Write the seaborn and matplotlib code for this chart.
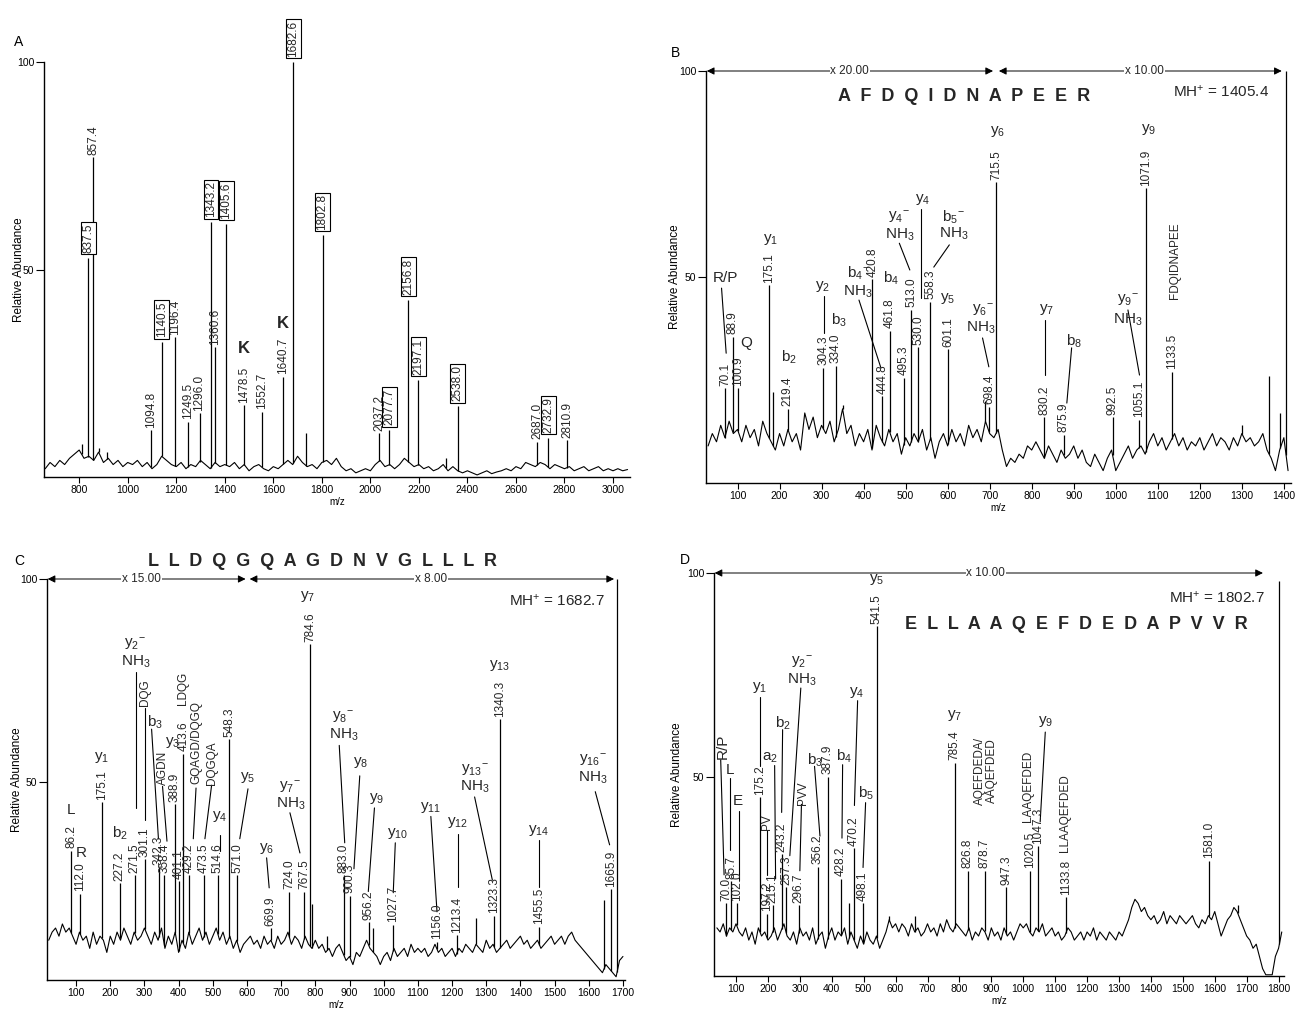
import numpy as np
import matplotlib
matplotlib.use("Agg")
import matplotlib.pyplot as plt
import seaborn as sns

sns.set_theme(style="ticks")
plt.rcParams["font.family"] = ["Liberation Sans", "DejaVu Sans"]
plt.rcParams["mathtext.fontset"] = "custom"
plt.rcParams["mathtext.rm"] = "Liberation Sans"
plt.rcParams["mathtext.it"] = "Liberation Sans"
plt.rcParams["mathtext.default"] = "regular"

# ---------------- Panel A : MALDI peptide map ----------------
a_base_mz = np.arange(660, 3061, 20)
a_base_y = [2.0, 3.5, 2.5, 4.0, 3.0, 4.5, 5.5, 6.5,
            4.5, 5.0, 4.0, 6.0, 3.5, 4.5, 3.0, 4.0, 2.5, 3.5,
            3.0, 4.0, 2.5, 3.5, 2.0, 3.0, 5.0, 4.0, 3.0, 2.5,
            3.5, 2.0, 3.0, 2.5, 4.0, 3.0, 2.0, 3.5, 2.5, 3.0,
            2.5, 3.5, 2.0, 3.0, 1.5, 2.5, 3.0, 2.0, 1.5, 2.5,
            2.0, 3.0, 4.0, 3.0, 5.0, 3.5, 2.5, 3.0, 2.0, 3.5,
            4.0, 3.0, 4.5, 2.5, 1.5, 2.0, 1.0, 1.5, 2.0, 1.5,
            3.0, 4.0, 2.5, 3.0, 2.0, 3.0, 4.5, 3.5, 2.5, 3.0,
            2.0, 2.5, 1.5, 2.0, 3.0, 1.5, 2.5, 1.5, 1.0, 1.5,
            1.0, 0.5, 1.0, 1.5, 0.8, 1.2, 1.5, 2.0, 1.5, 2.5,
            2.0, 3.5, 3.0, 2.5, 3.5, 3.0, 2.0, 3.0, 2.5, 2.0,
            2.5, 1.5, 2.0, 2.5, 1.5, 2.0, 2.5, 1.5, 2.0, 1.5,
            2.0, 1.5, 1.8]
a_peak_mz = [810, 837.5, 857.4, 880, 915, 1094.8, 1140.5, 1196.4, 1249.5, 1296.0,
             1343.2, 1360.6, 1405.6, 1478.5, 1552.7, 1640.7, 1682.6, 1735, 1802.8,
             2037.2, 2077.7, 2156.8, 2197.1, 2312, 2360, 2687.0, 2732.9, 2810.9]
a_peak_h = [8, 52.8, 77, 7, 6, 11.3, 32.5, 33.7, 13.3, 15.4,
            61.4, 31.3, 61, 17.3, 15.7, 24.1, 100, 10.6, 58.3,
            10.6, 11.3, 42.7, 23.4, 4.5, 17, 8.5, 9.4, 8.9]
a_peak_lbl = ["", "837.5", "857.4", "", "", "1094.8", "1140.5", "1196.4", "1249.5", "1296.0",
              "1343.2", "1360.6", "1405.6", "1478.5", "1552.7", "1640.7", "1682.6", "", "1802.8",
              "2037.2", "2077.7", "2156.8", "2197.1", "", "2538.0", "2687.0", "2732.9", "2810.9"]
a_boxed = ["837.5", "1140.5", "1343.2", "1405.6", "1682.6", "1802.8", "2077.7",
           "2156.8", "2197.1", "2538.0", "2732.9"]
a_xticks = [800, 1000, 1200, 1400, 1600, 1800, 2000, 2200, 2400, 2600, 2800, 3000]

# ---------------- Panel B : AFDQIDNAPEER ----------------
b_base_mz = np.arange(30, 1411, 10)
b_base_y = [9, 12, 10, 14, 11, 15, 12, 13,
            10, 14, 11, 13, 9, 15, 12, 10, 8, 12,
            9, 13, 10, 12, 8, 17, 13, 16, 11, 14,
            12, 15, 10, 13, 18, 12, 14, 9, 12, 10,
            13, 8, 14, 11, 9, 13, 10, 12, 7, 11,
            9, 12, 10, 13, 8, 11, 6, 10, 12, 9,
            13, 10, 12, 9, 14, 11, 13, 10, 15, 12,
            11, 13, 8, 4, 6, 5, 7, 6, 9, 8,
            10, 8, 6, 9, 7, 5, 8, 6, 7, 9,
            6, 8, 5, 4, 7, 5, 3, 6, 8, 3,
            5, 7, 9, 6, 8, 9, 7, 10, 12, 9,
            11, 8, 10, 12, 9, 11, 8, 10, 9, 11,
            8, 10, 12, 9, 11, 10, 8, 11, 9, 12,
            10, 11, 9, 10, 12, 8, 6, 3, 8, 11,
            3]
b_peak_mz = [70.1, 88.9, 100.9, 175.1, 185, 219.4, 304.3, 334.0, 350, 420.8, 444.8,
             461.8, 495.3, 513.0, 530.0, 558.3, 601.1, 690, 698.4, 715.5, 830.2,
             875.9, 992.5, 1055.1, 1071.9, 1133.5, 1300, 1365, 1392, 1405.4]
b_peak_h = [23, 35.5, 23, 48, 22, 18, 28, 28.5, 19, 49.5, 21,
            37, 25.5, 42, 33, 44, 32.5, 20, 18.5, 73, 16,
            11.7, 16, 15.3, 71.5, 27, 14, 26, 17, 100]
b_peak_lbl = ["70.1", "88.9", "100.9", "175.1", "", "219.4", "304.3", "334.0", "", "420.8", "444.8",
              "461.8", "495.3", "513.0", "530.0", "558.3", "601.1", "", "698.4", "715.5", "830.2",
              "875.9", "992.5", "1055.1", "1071.9", "1133.5", "", "", "", ""]
b_xticks = list(range(100, 1401, 100))

# ---------------- Panel C : LLDQGQAGDNVGLLLR ----------------
c_base_mz = np.arange(20, 1701, 10)
c_base_y = [11, 13, 14, 12, 15, 13, 14, 12, 10,
            13, 11, 12, 9, 13, 10, 12, 11, 8, 12,
            10, 13, 11, 14, 12, 10, 13, 11, 12, 14,
            12, 10, 13, 11, 14, 9, 12, 10, 13, 8,
            11, 9, 13, 10, 12, 14, 11, 13, 10, 12,
            14, 11, 13, 10, 12, 9, 11, 8, 10, 11,
            12, 10, 11, 9, 12, 10, 11, 9, 12, 10,
            11, 13, 10, 12, 11, 9, 12, 10, 9, 11,
            9, 10, 8, 9, 7, 9, 10, 8, 6, 7,
            5, 8, 7, 9, 11, 9, 8, 7, 5, 7,
            8, 6, 9, 7, 8, 9, 7, 10, 8, 9,
            8, 9, 7, 8, 10, 8, 9, 7, 8, 9,
            7, 9, 8, 10, 9, 8, 10, 9, 8, 11,
            9, 10, 8, 9, 10, 11, 9, 10, 11, 12,
            10, 11, 9, 10, 11, 9, 10, 11, 12, 10,
            11, 12, 10, 12, 13, 11, 10, 9, 8, 7,
            6, 5, 4, 3, 5, 4, 3, 2, 6, 7]
c_peak_mz = [86.2, 112.0, 175.1, 227.2, 271.5, 301.1, 342.3, 358.4, 388.9, 401.1, 413.6,
             429.2, 473.5, 514.6, 548.3, 571.0, 669.9, 724.0, 767.5, 784.6, 790, 835,
             883.0, 900.3, 956.2, 970, 1027.7, 1156.0, 1213.4, 1270, 1323.3, 1340.3,
             1455.5, 1645, 1665.9, 1682.7]
c_peak_h = [33, 22.5, 45, 25, 27, 31, 29, 27, 44.5, 25.5, 57,
            27, 27, 27, 60.5, 27, 14, 23, 23, 84, 20, 12,
            27, 22, 15.5, 14, 14.8, 10.6, 12.3, 16.5, 17, 65.5,
            14.3, 21, 23.5, 100]
c_peak_lbl = ["86.2", "112.0", "175.1", "227.2", "271.5", "301.1", "342.3", "358.4", "388.9", "401.1", "413.6",
              "429.2", "473.5", "514.6", "548.3", "571.0", "669.9", "724.0", "767.5", "784.6", "", "",
              "883.0", "900.3", "956.2", "", "1027.7", "1156.0", "1213.4", "", "1323.3", "1340.3",
              "1455.5", "", "1665.9", ""]
c_xticks = list(range(100, 1701, 100))

# ---------------- Panel D : ELLAAQEFDEDAPVVR ----------------
d_base_mz = np.arange(40, 1811, 10)
d_base_y = [13, 12, 14, 11, 13, 12, 14,
            12, 11, 13, 10, 12, 9, 13, 11, 12, 10,
            11, 13, 10, 12, 14, 11, 10, 12, 9, 13,
            11, 12, 10, 13, 9, 11, 12, 8, 11, 13,
            10, 12, 11, 13, 9, 12, 10, 8, 11, 9,
            12, 10, 9, 11, 8, 10, 12, 15, 13, 14,
            12, 14, 13, 11, 14, 12, 13, 11, 12, 14,
            12, 13, 11, 14, 12, 15, 13, 12, 14, 13,
            12, 11, 13, 10, 12, 11, 13, 12, 10, 13,
            11, 12, 10, 13, 11, 12, 10, 12, 14, 13,
            14, 12, 11, 13, 12, 14, 11, 12, 13, 11,
            12, 10, 11, 13, 12, 10, 11, 12, 10, 12,
            11, 13, 10, 12, 11, 10, 12, 11, 10, 12,
            11, 13, 15, 18, 20, 19, 17, 18, 16, 15,
            16, 14, 15, 17, 14, 16, 15, 14, 16, 15,
            14, 15, 16, 14, 13, 15, 14, 16, 15, 17,
            14, 11, 13, 15, 16, 18, 17, 15, 13, 11,
            10, 8, 9, 6, 3, 1.5, 1.5, 1.5, 6, 8,
            12]
d_peak_mz = [70.0, 85.7, 102.0, 175.2, 197.2, 215.1, 243.2, 257.3, 296.7, 356.2, 387.9,
             428.2, 455, 470.2, 498.1, 541.5, 580, 660, 785.4, 826.8, 878.7, 947.3,
             1020.5, 1047.3, 1133.8, 1581.0, 1672, 1802.7]
d_peak_h = [19, 24.5, 19, 45, 16.5, 18.5, 31, 23, 18.5, 28, 50,
            25, 19, 32.5, 19, 87, 16, 16, 53.5, 27, 27, 23,
            27, 33, 20.5, 29.5, 18.5, 98]
d_peak_lbl = ["70.0", "85.7", "102.0", "175.2", "197.2", "215.1", "243.2", "257.3", "296.7", "356.2", "387.9",
              "428.2", "", "470.2", "498.1", "541.5", "", "", "785.4", "826.8", "878.7", "947.3",
              "1020.5", "1047.3", "1133.8", "1581.0", "", ""]
d_xticks = list(range(100, 1801, 100))

# ---------------- annotations (text, m/z, abundance) ----------------
b_ions = [("R/P", 72, 49.8), ("Q", 120, 34), ("y$_1$", 179, 59), ("b$_2$", 223, 30.6),
          ("y$_2$", 303, 47.6), ("b$_3$", 342, 39.6), ("b$_4$$^{-}$", 387, 51), ("NH$_3$", 387, 46.4),
          ("b$_4$", 466, 49.8), ("y$_4$$^{-}$", 485, 64.6), ("NH$_3$", 487, 60.2), ("y$_4$", 540, 68.7),
          ("b$_5$$^{-}$", 614, 64.6), ("NH$_3$", 614, 60.6), ("y$_5$", 599, 44.8),
          ("y$_6$$^{-}$", 683, 42), ("NH$_3$", 680, 37.6), ("y$_6$", 718, 85.3), ("y$_7$", 836, 42),
          ("b$_8$", 900, 34.3), ("y$_9$$^{-}$", 1029, 44.4), ("NH$_3$", 1029, 39.6), ("y$_9$", 1078, 85.7)]
b_leaders = [((62, 47.3), (73, 31.5)), ((305, 45.5), (305, 36.5)), ((389, 44.4), (441, 28)),
             ((485, 58.2), (510, 51.7)), ((537, 66.5), (537, 44.9)), ((604, 57.8), (567, 52.4)),
             ((683, 35.2), (698, 28.2)), ((831, 39.6), (831, 26.2)), ((895, 32.8), (883.6, 19.4)),
             ((1029, 42), (1056.5, 26.2))]
b_seq_side = [("FDQIDNAPEE", 1142, 54)]

c_ions = [("L", 84.5, 43.1), ("R", 116.6, 32.5), ("y$_1$", 175, 56), ("b$_2$", 229, 37.4),
          ("y$_2$$^{-}$", 272, 84), ("NH$_3$", 274, 79.6), ("b$_3$", 331, 64.8), ("y$_3$", 382, 59.8),
          ("y$_4$", 521, 41.4), ("y$_5$", 603, 51.2), ("y$_6$", 657, 33.5), ("y$_7$$^{-}$", 726, 48.8),
          ("NH$_3$", 728, 44.7), ("y$_7$", 778, 95.6), ("y$_8$$^{-}$", 882, 66), ("NH$_3$", 884, 61.6),
          ("y$_8$", 934, 54.7), ("y$_9$", 979, 46), ("y$_{10}$", 1040, 37.4), ("y$_{11}$", 1138, 43.6),
          ("y$_{12}$", 1217, 40), ("y$_{13}$$^{-}$", 1266, 53), ("NH$_3$", 1266, 48.8),
          ("y$_{13}$", 1339, 78.8), ("y$_{14}$", 1454, 38), ("y$_{16}$$^{-}$", 1613, 55.4), ("NH$_3$", 1613, 51)]
c_leaders = [((276, 77), (276, 43.6)), ((302, 68.3), (302, 40.6)), ((321, 63), (341, 36)),
             ((353, 48.9), (366, 35.4)), ((451, 48.5), (443, 36)), ((496.6, 49.2), (477, 36)),
             ((521, 37), (521, 33)), ((603, 48.3), (579, 36)), ((657.5, 31.3), (665, 23.9)),
             ((725.7, 42.4), (755, 32.5)), ((870, 59), (886, 35)), ((930, 51.5), (913, 28.6)),
             ((973, 43.6), (955, 23)), ((1034, 35), (1028, 22.7)), ((1138, 41.5), (1156, 18)),
             ((1217, 37.2), (1217, 24)), ((1266, 46.3), (1318, 25.8)), ((1454, 35.7), (1454, 24)),
             ((1619, 47.6), (1661, 34.5))]
c_seq_side = [("DQG", 302, 72), ("AGDN", 353.5, 53.4), ("LDQG", 412, 73),
              ("GQAGD/DQGQ", 453, 59.6), ("DQGQA", 497.6, 54.7)]

d_ions = [("L", 81, 51.7), ("E", 107, 44), ("y$_1$", 175, 72), ("a$_2$", 206.6, 54.6),
          ("b$_2$", 248, 63.2), ("y$_2$$^{-}$", 306, 78.3), ("NH$_3$", 306, 73.8), ("b$_3$", 347.5, 54),
          ("b$_4$", 438, 55), ("y$_4$", 478, 70.6), ("b$_5$", 507, 46), ("y$_5$", 541, 98.3),
          ("y$_7$", 785, 65), ("y$_9$", 1069, 63.5)]
d_ions_rot = [("R/P", 58.5, 57.4)]
d_leaders = [((52, 54.2), (62.6, 26)), ((82, 49.7), (82, 32.2)), ((109, 41.6), (109, 24.8)),
             ((175, 69.5), (175, 52.8)), ((221, 52.8), (224, 25)), ((197, 37), (197, 26)),
             ((246, 61.6), (243, 41.3)), ((303, 71.8), (268.6, 30.7)), ((305, 43.3), (300, 27)),
             ((346, 52.6), (363, 35.5)), ((434, 53), (432, 35)), ((481, 68.7), (471, 43)),
             ((506, 43.7), (498, 27.8)), ((1069, 61), (1053, 39))]
d_seq_side = [("PV", 196, 39), ("PVV", 310, 46), ("AQEFDEDA/\nAAQEFDED", 883, 51.5),
              ("LAAQEFDED", 1016, 47.8), ("LLAAQEFDED", 1131, 41.2)]

# ---------------- drawing helpers ----------------
W, H = 1299, 1009
fig = plt.figure(figsize=(W / 100, H / 100), dpi=100)


def px_axes(left, right, top, bottom):
    return fig.add_axes([left / W, 1 - bottom / H, (right - left) / W, (bottom - top) / H])


def draw_spectrum(ax, base_mz, base_y, pk_mz, pk_h, pk_lbl, boxed=()):
    sns.lineplot(x=base_mz, y=base_y, ax=ax, color="black", linewidth=0.8,
                 estimator=None, sort=False)
    pk_base = np.interp(pk_mz, base_mz, base_y)
    ax.vlines(pk_mz, pk_base, pk_h, color="black", linewidth=0.9)
    for mz, h, t in zip(pk_mz, pk_h, pk_lbl):
        if not t:
            continue
        if t in boxed:
            ax.text(mz, h + 1.2, t, rotation=90, ha="center", va="bottom", fontsize=8.5,
                    bbox=dict(boxstyle="square,pad=0.12", fc="white", ec="black", lw=0.8))
        else:
            ax.text(mz, h + 0.6, t, rotation=90, ha="center", va="bottom", fontsize=8.5)


def style_axes(ax, xlim, ylim, xticks, ylab_x):
    ax.set_xlim(*xlim)
    ax.set_ylim(*ylim)
    ax.set_xticks(xticks)
    ax.set_yticks([50, 100])
    sns.despine(ax=ax)
    for s in ("left", "bottom"):
        ax.spines[s].set_linewidth(1.0)
        ax.spines[s].set_color("black")
    ax.tick_params(axis="x", length=4, width=0.8, labelsize=7.5, pad=2, colors="black")
    ax.tick_params(axis="y", length=6, width=0.8, labelsize=7.5, pad=1, colors="black")
    ax.set_ylabel("Relative Abundance", fontsize=8.5, color="black")
    ax.yaxis.set_label_coords(ylab_x, 0.5)
    ax.set_xlabel("m/z", fontsize=7, color="black", labelpad=1)
    ax.patch.set_alpha(0)


def annotate(ax, ions, leaders, seq_side, ions_rot=()):
    for t, x, y in ions:
        ax.text(x, y, t, ha="center", va="center", fontsize=11)
    for t, x, y in ions_rot:
        ax.text(x, y, t, ha="center", va="center", fontsize=11, rotation=90)
    for (x1, y1), (x2, y2) in leaders:
        ax.plot([x1, x2], [y1, y2], color="black", lw=0.8, clip_on=False)
    for t, x, y in seq_side:
        ax.text(x, y, t, ha="center", va="center", fontsize=8.5, rotation=90,
                linespacing=1.0)


def mag_arrow(ax, x1, x2, label, tx, y=100):
    ax.annotate("", xy=(x1, y), xytext=(x2, y), annotation_clip=False,
                arrowprops=dict(arrowstyle="<|-|>", color="black", lw=0.7,
                                mutation_scale=11, shrinkA=0, shrinkB=0))
    ax.text(tx, y, label, ha="center", va="center", fontsize=8.5,
            bbox=dict(fc="white", ec="none", pad=0.6))


def spaced(seq):
    return "  ".join(seq)


# ---- A ----
axA = px_axes(44, 630, 62, 477)
draw_spectrum(axA, a_base_mz, a_base_y, a_peak_mz, a_peak_h, a_peak_lbl, boxed=a_boxed)
style_axes(axA, (655, 3070), (0, 100), a_xticks, -0.032)
axA.text(1480, 31, "K", ha="center", va="center", fontsize=12, fontweight="bold")
axA.text(1640, 37, "K", ha="center", va="center", fontsize=12, fontweight="bold")

# ---- B ----
axB = px_axes(706, 1291, 71, 483)
draw_spectrum(axB, b_base_mz, b_base_y, b_peak_mz, b_peak_h, b_peak_lbl)
style_axes(axB, (25, 1417), (0, 100), b_xticks, -0.043)
annotate(axB, b_ions, b_leaders, b_seq_side)
mag_arrow(axB, 27, 708, "x 20.00", 367)
mag_arrow(axB, 722, 1395, "x 10.00", 1068)
axB.text(640, 93.7, spaced("AFDQIDNAPEER"), ha="center", va="center", fontsize=13, fontweight="bold")
axB.text(1251, 95, "MH$^{+}$ = 1405.4", ha="center", va="center", fontsize=11)

# ---- C ----
axC = px_axes(47, 625, 579, 980)
draw_spectrum(axC, c_base_mz, c_base_y, c_peak_mz, c_peak_h, c_peak_lbl)
style_axes(axC, (15, 1706), (1.2, 100), c_xticks, -0.042)
annotate(axC, c_ions, c_leaders, c_seq_side)
mag_arrow(axC, 17, 596, "x 15.00", 291)
mag_arrow(axC, 608, 1674, "x 8.00", 1138)
axC.text(821, 104.4, spaced("LLDQGQAGDNVGLLLR"), ha="center", va="center", fontsize=13, fontweight="bold")
axC.text(1507, 94.8, "MH$^{+}$ = 1682.7", ha="center", va="center", fontsize=11)

# ---- D ----
axD = px_axes(714, 1284, 573, 976)
draw_spectrum(axD, d_base_mz, d_base_y, d_peak_mz, d_peak_h, d_peak_lbl)
style_axes(axD, (31, 1817), (1.2, 100), d_xticks, -0.055)
annotate(axD, d_ions, d_leaders, d_seq_side, d_ions_rot)
mag_arrow(axD, 33, 1751, "x 10.00", 883)
axD.text(1167, 87.3, spaced("ELLAAQEFDEDAPVVR"), ha="center", va="center", fontsize=13, fontweight="bold")
axD.text(1608, 94, "MH$^{+}$ = 1802.7", ha="center", va="center", fontsize=11)

# panel letters
for lab, x, y in [("A", 19, 42), ("B", 675, 53), ("C", 19, 561), ("D", 685, 560)]:
    fig.text(x / W, 1 - y / H, lab, ha="center", va="center", fontsize=10, color="black")

fig.savefig("out.png", dpi=100, facecolor="white")
